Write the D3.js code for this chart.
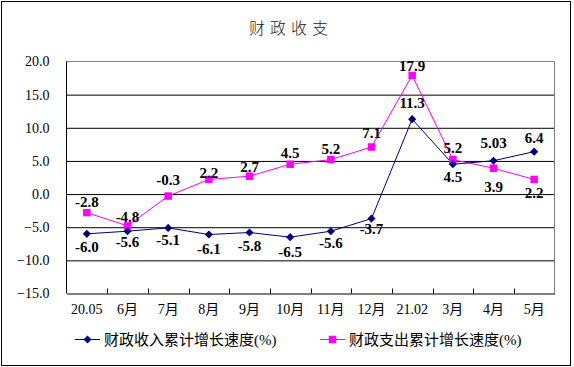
<!DOCTYPE html>
<html>
<head>
<meta charset="utf-8">
<script src="https://cdn.jsdelivr.net/npm/d3@7"></script>
<style>
  body { margin: 0; background: #fff; }
  svg { display: block; }
</style>
</head>
<body>
<svg id="chart" width="574" height="367"></svg>
<script>
// data
const categories = ['20.05', '6月', '7月', '8月', '9月', '10月', '11月', '12月', '21.02', '3月', '4月', '5月'];
const income = [-6.0, -5.6, -5.1, -6.1, -5.8, -6.5, -5.6, -3.7, 11.3, 4.5, 5.03, 6.4];
const expense = [-2.8, -4.8, -0.3, 2.2, 2.7, 4.5, 5.2, 7.1, 17.9, 5.2, 3.9, 2.2];
const incomeText = ['-6.0', '-5.6', '-5.1', '-6.1', '-5.8', '-6.5', '-5.6', '-3.7', '11.3', '4.5', '5.03', '6.4'];
const expenseText = ['-2.8', '-4.8', '-0.3', '2.2', '2.7', '4.5', '5.2', '7.1', '17.9', '5.2', '3.9', '2.2'];
const yTicks = [20, 15, 10, 5, 0, -5, -10, -15];
const seriesNames = ['财政收入累计增长速度(%)', '财政支出累计增长速度(%)'];

// label offsets (px from the point, vertical)
const incomeLabelDy = [13, 11, 12, 14, 13, 15, 12, 10, -16, 13, -18, -14];
const expenseLabelDy = [-11, -9, -16, -7, -9, -11, -11, -14, -10, -12, 19, 13];

const svg = d3.select('#chart');
const serif = '"Liberation Serif", "Times New Roman", serif';
const cjk = '"Noto Sans CJK SC", sans-serif';

// outer frame
svg.append('rect')
    .attr('x', 1.5).attr('y', 1.5)
    .attr('width', 569).attr('height', 364)
    .attr('fill', '#fff').attr('stroke', '#000').attr('stroke-width', 1);

// title
svg.append('text')
    .attr('x', 291).attr('y', 28)
    .attr('dy', '0.35em')
    .attr('text-anchor', 'middle')
    .attr('font-family', cjk)
    .attr('font-size', 16)
    .attr('font-weight', 300)
    .attr('letter-spacing', 5)
    .attr('fill', '#222')
    .text('财政收支');

const pLeft = 66.5, pRight = 554.5, pTop = 61.5, pBottom = 293.5;

const x = d3.scaleBand().domain(categories).range([pLeft, pRight]).padding(0);
const y = d3.scaleLinear().domain([-15, 20]).range([pBottom, pTop]);

// gridlines + y labels
const yAxis = svg.append('g')
    .attr('transform', `translate(${pLeft},0)`)
    .call(d3.axisLeft(y).tickValues(yTicks).tickSize(-(pRight - pLeft)).tickFormat(d3.format('.1f')));
yAxis.select('.domain').remove();
yAxis.selectAll('.tick line').attr('stroke', '#000');
yAxis.selectAll('.tick text')
    .attr('x', -17)
    .attr('font-family', serif)
    .attr('font-size', 14)
    .attr('fill', '#000');
yAxis.selectAll('.tick').filter(d => d === 20 || d === -15).select('line').remove();

// plot frame: top/right grey, left/bottom black
svg.append('line').attr('x1', pLeft).attr('x2', pRight).attr('y1', pTop).attr('y2', pTop).attr('stroke', '#808080');
svg.append('line').attr('x1', pRight).attr('x2', pRight).attr('y1', pTop).attr('y2', pBottom).attr('stroke', '#808080');
svg.append('line').attr('x1', pLeft).attr('x2', pLeft).attr('y1', pTop).attr('y2', pBottom).attr('stroke', '#000');

// x axis
const xAxis = svg.append('g')
    .attr('transform', `translate(0,${pBottom})`)
    .call(d3.axisBottom(x).tickSize(0).tickPadding(11));
xAxis.select('.domain').attr('stroke', '#000');
xAxis.selectAll('.tick text')
    .attr('font-family', serif)
    .attr('font-size', 14)
    .attr('fill', '#000');
xAxis.selectAll('.tick text').each(function (d) {
    const t = d3.select(this);
    if (/月/.test(d)) {
        const num = d.replace('月', '');
        t.text(null);
        t.append('tspan').attr('font-family', serif).text(num);
        t.append('tspan').attr('font-family', cjk).text('月');
    }
});
// inner ticks at category boundaries
svg.append('g').selectAll('line')
    .data(categories.slice(1))
    .join('line')
    .attr('x1', d => Math.round(x(d)) + 0.5).attr('x2', d => Math.round(x(d)) + 0.5)
    .attr('y1', pBottom - 5).attr('y2', pBottom)
    .attr('stroke', '#000');

const cx = (d, i) => x(categories[i]) + x.bandwidth() / 2;
const line = d3.line().x(cx).y(d => y(d));

const diamond = d3.symbol().type(d3.symbolDiamond2).size(42);
const square = d3.symbol().type(d3.symbolSquare).size(56);

// expense series
svg.append('path').datum(expense)
    .attr('d', line).attr('fill', 'none').attr('stroke', '#ff00ff').attr('stroke-width', 1);
// income series
svg.append('path').datum(income)
    .attr('d', line).attr('fill', 'none').attr('stroke', '#000080').attr('stroke-width', 1);

svg.append('g').selectAll('path')
    .data(expense)
    .join('path')
    .attr('d', square)
    .attr('transform', (d, i) => `translate(${cx(d, i)},${y(d)})`)
    .attr('fill', '#ff00ff');
svg.append('g').selectAll('path')
    .data(income)
    .join('path')
    .attr('d', diamond)
    .attr('transform', (d, i) => `translate(${cx(d, i)},${y(d)})`)
    .attr('fill', '#000080');

// data labels
const addLabels = (vals, texts, dys) => {
    svg.append('g').selectAll('text')
        .data(vals)
        .join('text')
        .attr('x', cx)
        .attr('y', (d, i) => y(d) + dys[i])
        .attr('dy', '0.35em')
        .attr('text-anchor', 'middle')
        .attr('font-family', serif)
        .attr('font-weight', 'bold')
        .attr('font-size', 15)
        .attr('fill', '#000')
        .text((d, i) => texts[i]);
};
addLabels(expense, expenseText, expenseLabelDy);
addLabels(income, incomeText, incomeLabelDy);

// legend
const legendItems = [
    { name: seriesNames[0], color: '#000080', sym: diamond, x: 75 },
    { name: seriesNames[1], color: '#ff00ff', sym: square, x: 320 }
];
const ly = 339.5;
legendItems.forEach(it => {
    const g = svg.append('g');
    g.append('line').attr('x1', it.x).attr('x2', it.x + 25).attr('y1', ly).attr('y2', ly)
        .attr('stroke', it.color);
    g.append('path').attr('d', it.sym).attr('transform', `translate(${it.x + 12.5},${ly})`)
        .attr('fill', it.color);
    const t = g.append('text').attr('x', it.x + 29).attr('y', ly).attr('dy', '0.35em')
        .attr('font-size', 15).attr('fill', '#000');
    t.append('tspan').attr('font-family', cjk).text(it.name.replace('(%)', ''));
    t.append('tspan').attr('font-family', serif).text('(%)');
});
</script>
</body>
</html>
